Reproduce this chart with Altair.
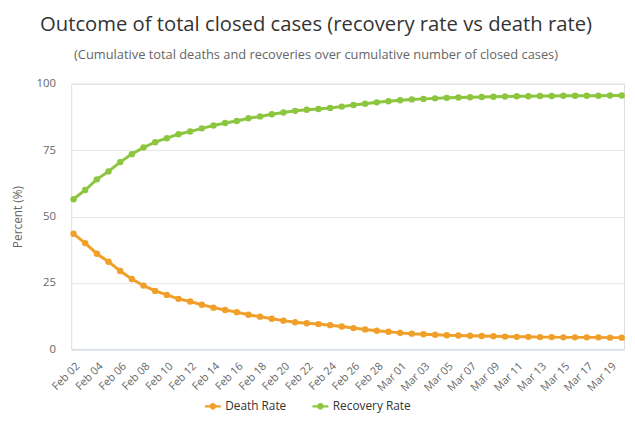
import altair as alt
import pandas as pd

dates = [
    "Feb 02", "Feb 03", "Feb 04", "Feb 05", "Feb 06", "Feb 07", "Feb 08", "Feb 09",
    "Feb 10", "Feb 11", "Feb 12", "Feb 13", "Feb 14", "Feb 15", "Feb 16", "Feb 17",
    "Feb 18", "Feb 19", "Feb 20", "Feb 21", "Feb 22", "Feb 23", "Feb 24", "Feb 25",
    "Feb 26", "Feb 27", "Feb 28", "Feb 29", "Mar 01", "Mar 02", "Mar 03", "Mar 04",
    "Mar 05", "Mar 06", "Mar 07", "Mar 08", "Mar 09", "Mar 10", "Mar 11", "Mar 12",
    "Mar 13", "Mar 14", "Mar 15", "Mar 16", "Mar 17", "Mar 18", "Mar 19", "Mar 20",
]

death_rate = [
    43.5, 40.0, 36.0, 33.0, 29.5, 26.5, 24.0, 22.0,
    20.5, 19.0, 18.0, 16.8, 15.7, 14.8, 14.0, 13.0,
    12.3, 11.5, 10.8, 10.2, 9.8, 9.5, 9.1, 8.6,
    8.0, 7.5, 7.0, 6.6, 6.2, 5.9, 5.7, 5.5,
    5.3, 5.2, 5.1, 5.0, 4.9, 4.8, 4.7, 4.7,
    4.6, 4.6, 4.5, 4.5, 4.5, 4.5, 4.4, 4.4,
]

recovery_rate = [
    56.5, 60.0, 64.0, 67.0, 70.5, 73.5, 76.0, 78.0,
    79.5, 81.0, 82.0, 83.2, 84.3, 85.2, 86.0, 87.0,
    87.7, 88.5, 89.2, 89.8, 90.2, 90.5, 90.9, 91.4,
    92.0, 92.5, 93.0, 93.4, 93.8, 94.1, 94.3, 94.5,
    94.7, 94.8, 94.9, 95.0, 95.1, 95.2, 95.3, 95.3,
    95.4, 95.4, 95.5, 95.5, 95.5, 95.5, 95.6, 95.6,
]

series_names = ["Death Rate", "Recovery Rate"]
series_colors = ["#F0A02A", "#8CC63F"]
y_ticks = [0, 25, 50, 75, 100]
x_tick_labels = dates[::2]

rows = []
for d, v in zip(dates, death_rate):
    rows.append({"date": d, "series": series_names[0], "value": v})
for d, v in zip(dates, recovery_rate):
    rows.append({"date": d, "series": series_names[1], "value": v})
df = pd.DataFrame(rows)

legend_symbol = (
    "M -1 -0.14 L 1 -0.14 L 1 0.14 L -1 0.14 Z "
    "M 0.42 0 A 0.42 0.42 0 1 1 -0.42 0 A 0.42 0.42 0 1 1 0.42 0 Z"
)

color = alt.Color(
    "series:N",
    scale=alt.Scale(domain=series_names, range=series_colors),
    legend=alt.Legend(
        title=None,
        orient="none",
        direction="horizontal",
        legendX=135,
        legendY=318,
        symbolType=legend_symbol,
        symbolSize=260,
        symbolStrokeWidth=0,
        labelFont="Open Sans",
        labelFontSize=12,
        labelColor="#333333",
        columnPadding=26,
    ),
)

x = alt.X(
    "date:N",
    sort=dates,
    scale=alt.Scale(type="point", padding=0.2),
    axis=alt.Axis(
        title=None,
        values=x_tick_labels,
        labelAngle=-45,
        labelFont="Open Sans",
        labelFontSize=11,
        labelColor="#666666",
        ticks=False,
        grid=False,
        domainColor="#ccd6eb",
        labelPadding=11,
    ),
)

y = alt.Y(
    "value:Q",
    scale=alt.Scale(domain=[0, 100], nice=False),
    axis=alt.Axis(
        title="Percent (%)",
        values=y_ticks,
        titleFont="Open Sans",
        titleFontSize=12,
        titleFontWeight="normal",
        titleColor="#666666",
        titlePadding=12,
        labelFont="Open Sans",
        labelFontSize=11.5,
        labelColor="#666666",
        labelPadding=16,
        ticks=False,
        domain=False,
        gridColor="#e6e6e6",
    ),
)

base = alt.Chart(df).encode(x=x, y=y, color=color)
lines = base.mark_line(strokeWidth=3)
points = base.mark_point(filled=True, size=42, opacity=1)

chart = (
    alt.layer(lines, points)
    .properties(
        width=560,
        height=269,
        autosize=alt.AutoSizeParams(type="none"),
        padding={"left": 64, "top": 74, "right": 3, "bottom": 80},
        title=alt.TitleParams(
            text="Outcome of total closed cases (recovery rate vs death rate)",
            subtitle="(Cumulative total deaths and recoveries over cumulative number of closed cases)",
            font="Open Sans",
            fontSize=20.5,
            fontWeight="normal",
            color="#333333",
            subtitleFont="Open Sans",
            subtitleFontSize=13,
            subtitleColor="#666666",
            subtitlePadding=14,
            anchor="middle",
            dx=-32,
            offset=16,
        ),
    )
    .configure_view(stroke=None)
    .configure(background="white")
)

chart.save("out.html", embed_options={"renderer": "svg", "actions": False})
